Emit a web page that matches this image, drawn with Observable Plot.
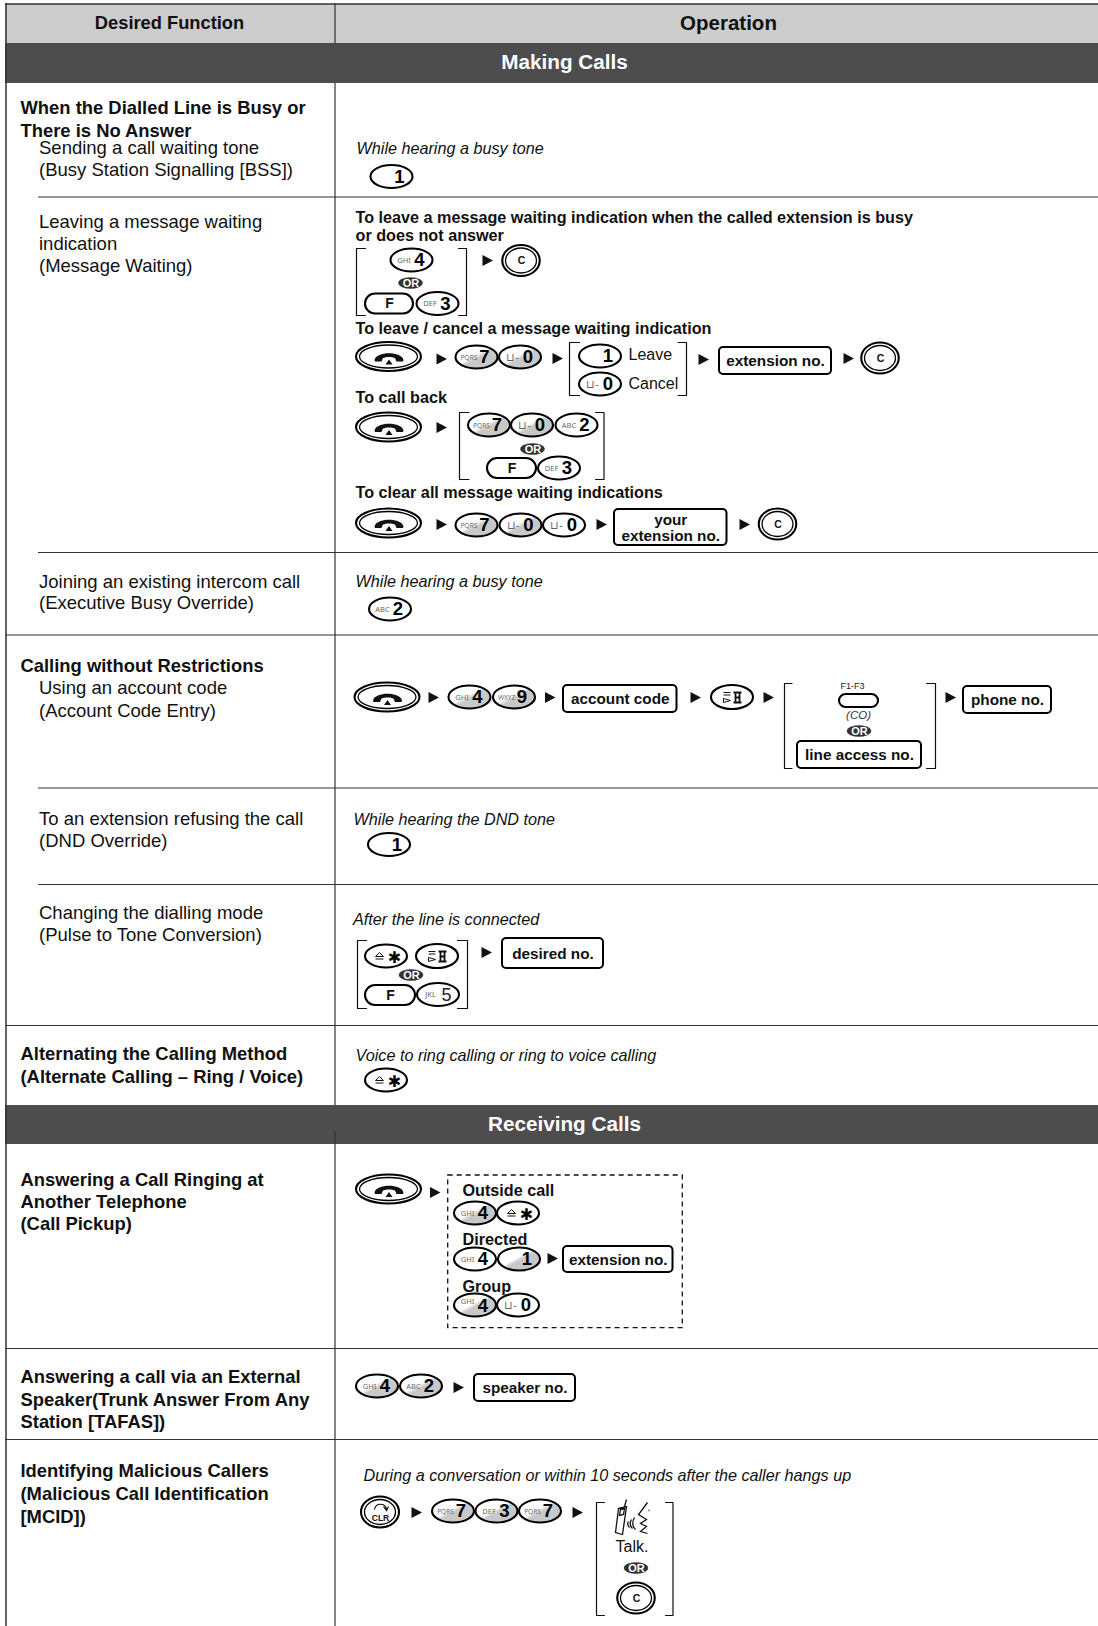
<!DOCTYPE html>
<html><head><meta charset="utf-8">
<script src="https://cdn.jsdelivr.net/npm/d3@7"></script>
<script src="https://cdn.jsdelivr.net/npm/@observablehq/plot@0.6"></script>
<style>html,body{margin:0;padding:0;background:#fff}svg{display:block}</style>
</head><body><div id="chart"></div>
<script>
// ---- content ----
const headers = ["Desired Function", "Operation"];
const sections = ["Making Calls", "Receiving Calls"];
const boldLeft = ["When the Dialled Line is Busy or","There is No Answer","Calling without Restrictions","Alternating the Calling Method","(Alternate Calling – Ring / Voice)","Answering a Call Ringing at","Another Telephone","(Call Pickup)","Answering a call via an External","Speaker(Trunk Answer From Any","Station [TAFAS])","Identifying Malicious Callers","(Malicious Call Identification","[MCID])"];
const plainLeft = ["Sending a call waiting tone","(Busy Station Signalling [BSS])","Leaving a message waiting","indication","(Message Waiting)","Joining an existing intercom call","(Executive Busy Override)","Using an account code","(Account Code Entry)","To an extension refusing the call","(DND Override)","Changing the dialling mode","(Pulse to Tone Conversion)"];
const italicRight = ["While hearing a busy tone","While hearing a busy tone","While hearing the DND tone","After the line is connected","Voice to ring calling or ring to voice calling","During a conversation or within 10 seconds after the caller hangs up"];
const boldRight = ["To leave a message waiting indication when the called extension is busy","or does not answer","To leave / cancel a message waiting indication","To call back","To clear all message waiting indications","Outside call","Directed","Group"];
const boxLabels = ["extension no.","your\nextension no.","account code","line access no.","phone no.","desired no.","extension no.","speaker no."];
const plainRight = ["Leave","Cancel","Talk."];
// key sequence as it appears down the page
const keyCaps = {"1":"","2":"ABC","3":"DEF","4":"GHI","5":"JKL","7":"PQRS","9":"WXYZ","0":"⊔-"};
const keyDigits = ["1","4","3","7","0","1","0","7","0","2","3","7","0","0","2","4","9","1","5","4","4","1","4","0","4","2","7","3","7"];
const keyShaded = [0,0,0,1,1,0,0,1,1,0,0,1,1,0,0,1,1,0,0,1,0,1,1,0,1,1,1,1,1];

// ---- layout, in page units ----
const leftBoldY = [108,131,666,1054,1077,1180,1202,1224,1377,1400,1422,1471,1494,1517];
const leftPlainY = [148,170,222,244,266,582,603,688,711,819,841,913,935];
const italicXY = [[356,148],[355,581],[353,819],[352.5,919],[355,1055.5],[363,1475]];
const boldRightXY = [[355,217.5],[355,235.5],[355,328.5],[355,397.5],[355,492.5],[462,1190],[462,1239],[462,1286]];
const boxXY = [[719,347,831,374],[614,509,726.5,545],[563,685,676.5,712],[797,741,921,768],[963,686,1051,713],[502,938,603,968],[563,1246,672.5,1272],[474,1374,575,1401]];
const plainRightXY = [[628,354],[628,383],[615,1546]];
const keyXY = [[391.5,176.5],[411.5,260],[437.5,303.5],[476.5,357],[520,357],[600,356],[600,384],[489,425],[532,425],[576.5,425],[559,468],[476.5,525],[520.5,525],[564,525],[390,609],[469.5,697],[514,697],[389,844.5],[438,994.5],[475,1213],[475,1259],[519,1259],[475,1305],[518,1305],[377,1386],[421,1386],[453,1511],[496.5,1511],[540,1511]];
const fKeyXY = [[389,303.5],[511.5,468],[390,995]];
const fKeyW = [48,49,50];
const orXY = [[410.5,283],[532.5,449],[859,731],[411,975],[636,1568]];
const arrowXY = [[487,260],[441,358.5],[557,358],[703,359],[848,358],[441,427],[441,524],[601,524],[744,524],[433,697],[549.5,697],[695,697],[768,697],[950,697],[486,952],[434.5,1192],[552,1258],[458,1387],[416,1512],[577,1512]];
const handsetXY = [[388.5,356.5],[388.5,427],[388.5,523],[387,697],[388.5,1189]];
const cKeyXY = [[521,260.5],[880,358],[777.5,524],[636,1598]];
const starXY = [[386,956],[386,1080],[518,1213]];
const flashXY = [[732,697],[437,956]];
const brackets = [[356,365,248,315,1],[458,466,248,315,-1],[569,579,342,395,1],[677.5,686,342,395,-1],[459,468.5,412,479,1],[595,603.5,412,479,-1],[784,791.5,683,768,1],[926,935,683,768,-1],[357,366,940,1008,1],[457,467,940,1008,-1],[596,604,1502,1615,1],[665,672.5,1502,1615,-1]];

const zip = (xy, extra) => xy.map((p,i)=>({x:p[0],y:p[1],...(extra?extra(i):{})}));
const keys = zip(keyXY, i=>({digit:keyDigits[i],cap:keyCaps[keyDigits[i]],shade:!!keyShaded[i],raised:i===22}));
const boxes = boxXY.map((b,i)=>({x1:b[0],y1:b[1],x2:b[2],y2:b[3],label:boxLabels[i]}));
const bracketPts = brackets.flatMap((b,i)=>{
  const spine = b[4]>0?b[0]:b[1], tip = b[4]>0?b[1]:b[0];
  return [[tip,b[2],i],[spine,b[2],i],[spine,b[3],i],[tip,b[3],i]];
});
const font = "Liberation Sans, Arial, sans-serif";

const oval = (data,w,h,opt) => Plot.rect(data,{x1:d=>d.x-w/2,x2:d=>d.x+w/2,y1:d=>d.y-h/2,y2:d=>d.y+h/2,rx:"50%",ry:"50%",stroke:"#000",fill:"white",strokeWidth:2.1,...opt});
const pill = (data,wf,h,opt) => Plot.rect(data,{x1:d=>d.x-wf(d)/2,x2:d=>d.x+wf(d)/2,y1:d=>d.y-h/2,y2:d=>d.y+h/2,rx:h/2,ry:h/2,stroke:"#000",fill:"white",strokeWidth:2.1,...opt});
const label = (data,o) => Plot.text(data,{fontFamily:font,textAnchor:"start",fill:"#111",...o});

const arrowSymbol = {draw(c){c.moveTo(-5,-5.5);c.lineTo(5.5,0);c.lineTo(-5,5.5);c.closePath();}};
const handsetSymbol = {draw(c){
  c.moveTo(-14.5,3);c.bezierCurveTo(-13,-6,13,-6,14.5,3);c.lineTo(14,4.5);c.lineTo(7.5,4.5);c.lineTo(6,1);
  c.bezierCurveTo(3,-.5,-3,-.5,-6,1);c.lineTo(-7.5,4.5);c.lineTo(-14,4.5);c.closePath();
  c.moveTo(0,2.5);c.lineTo(3.5,7.5);c.lineTo(-3.5,7.5);c.closePath();}};
const phoneSymbol = {draw(c){
  c.moveTo(-15,-11);c.lineTo(-7,-13);c.lineTo(-11,15);c.lineTo(-18,13);c.closePath();
  c.moveTo(-13,-10);c.lineTo(-9,-11);c.lineTo(-10,-5);c.lineTo(-14,-4);c.closePath();
  c.moveTo(-9,-13);c.lineTo(-7,-20);
  c.moveTo(-4,8);c.quadraticCurveTo(-7,5,-5,2);
  c.moveTo(-1,9);c.quadraticCurveTo(-5,5,-2,0);
  c.moveTo(2,10);c.quadraticCurveTo(-3,5,1,-2);
  c.moveTo(14,-17);c.lineTo(5,-5);c.lineTo(13,0);c.lineTo(7,4);c.lineTo(13,7);c.lineTo(7,12);c.lineTo(14,14);
  c.moveTo(15,-9);c.lineTo(16,-9);}};
const clrArc = {draw(c){c.moveTo(-6,1);c.bezierCurveTo(-5,-6,5,-6,6,1);c.moveTo(3,-2);c.lineTo(6,2);c.lineTo(8,-2);}};
const flashSymbol = {draw(c){
  c.moveTo(-9,-5);c.lineTo(-2,-5);c.moveTo(-9,-2.5);c.lineTo(-2,-2.5);
  c.moveTo(-9,1);c.lineTo(-2,3);c.lineTo(-9,5);c.closePath();}};
const flashBox = {draw(c){c.moveTo(1,-5);c.lineTo(9,-5);c.moveTo(1,5);c.lineTo(9,5);c.moveTo(3,-5);c.lineTo(3,5);c.moveTo(7,-5);c.lineTo(7,5);c.moveTo(2,0);c.lineTo(8,0);}};
const starSymbol = {draw(c){c.moveTo(-11,0);c.lineTo(-7,-4);c.lineTo(-3,0);c.closePath();c.moveTo(-11,2.5);c.lineTo(-3,2.5);}};

const defs = () => {
  const d = d3.create("svg:defs");
  const g = d.append("linearGradient").attr("id","sh").attr("x1",0).attr("y1",0).attr("x2",1).attr("y2",1);
  [[.44,"white"],[.54,"#c8c8c8"]].forEach(([o,c])=>g.append("stop").attr("offset",o).attr("stop-color",c));
  return d.node();
};

const page = Plot.plot({
  width:1098,height:1626,margin:0,
  x:{domain:[0,1098],range:[0,1098],axis:null},
  y:{domain:[0,1626],range:[0,1626],axis:null},
  marks:[
    defs,
    // bands
    Plot.rect([[4,43]],{x1:5,x2:1098,y1:d=>d[0],y2:d=>d[1],fill:"#cccccc"}),
    Plot.rect([[43,83],[1105,1144]],{x1:5,x2:1098,y1:d=>d[0],y2:d=>d[1],fill:"#4d4d4d"}),
    // rules
    Plot.ruleY([3.5],{x1:5,x2:1098,stroke:"#333",strokeWidth:1.5}),
    Plot.ruleX([5.5],{y1:3,y2:1626,stroke:"#333",strokeWidth:1.5}),
    Plot.ruleX([334.5],{y1:3,y2:43,stroke:"#333",strokeWidth:1.2}),
    Plot.ruleX([334.5],{y1:83,y2:1105,stroke:"#333",strokeWidth:1.2}),
    Plot.ruleX([334.5],{y1:1131,y2:1626,stroke:"#333",strokeWidth:1.2}),
    Plot.ruleY([196.5,552,787.5,884],{x1:38,x2:1098,stroke:"#333",strokeWidth:1.2}),
    Plot.ruleY([634.5,1025,1348,1439],{x1:5,x2:1098,stroke:"#333",strokeWidth:1.2}),
    // texts
    Plot.text([headers[0]],{x:169,y:23,text:d=>d,fontFamily:font,fontWeight:"bold",fontSize:18.3,fill:"#111"}),
    Plot.text([headers[1]],{x:728,y:23,text:d=>d,fontFamily:font,fontWeight:"bold",fontSize:20.5,fill:"#111"}),
    Plot.text(sections,{x:564,y:(d,i)=>[62,1124][i],text:d=>d,fontFamily:font,fontWeight:"bold",fontSize:20.7,fill:"white"}),
    label(boldLeft,{x:20,y:(d,i)=>leftBoldY[i],text:d=>d,fontWeight:"bold",fontSize:18.4}),
    label(plainLeft,{x:38.5,y:(d,i)=>leftPlainY[i],text:d=>d,fontSize:18.5}),
    label(italicRight,{x:(d,i)=>italicXY[i][0],y:(d,i)=>italicXY[i][1],text:d=>d,fontStyle:"italic",fontSize:16.2}),
    label(boldRight,{x:(d,i)=>boldRightXY[i][0],y:(d,i)=>boldRightXY[i][1],text:d=>d,fontWeight:"bold",fontSize:16.2}),
    label(plainRight,{x:(d,i)=>plainRightXY[i][0],y:(d,i)=>plainRightXY[i][1],text:d=>d,fontSize:16}),
    // brackets
    Plot.line(bracketPts,{x:d=>d[0],y:d=>d[1],z:d=>d[2],stroke:"#111",strokeWidth:1.2}),
    // dashed box
    Plot.rect([0],{x1:447.7,x2:682.3,y1:1175,y2:1327.7,fill:"none",stroke:"#111",strokeWidth:1.3,strokeDasharray:"5,4"}),
    // numbered keys
    oval(keys.filter(d=>!d.shade),42,23,{}),
    oval(keys.filter(d=>d.shade),42,23,{fill:"url(#sh)"}),
    Plot.text(keys,{x:"x",y:d=>d.y-(d.raised?4:0),dx:-8,text:"cap",fontFamily:d=>d.cap==="⊔-"?"DejaVu Sans":font,fontSize:d=>d.cap.length>3?6.5:d.cap==="⊔-"?10.5:7.5,fill:"#666"}),
    Plot.text(keys.filter(d=>d.digit!=="5"),{x:"x",y:d=>d.y+(d.raised?1:0),dx:7.5,text:"digit",fontFamily:font,fontWeight:"bold",fontSize:18.5,fill:"#000"}),
    Plot.text(keys.filter(d=>d.digit==="5"),{x:"x",y:"y",dx:8,text:"digit",fontFamily:font,fontSize:18,fill:"#222"}),
    // F keys
    pill(zip(fKeyXY,i=>({w:fKeyW[i]})),d=>d.w,20,{}),
    Plot.text(fKeyXY,{x:d=>d[0],y:d=>d[1],text:()=>"F",fontFamily:font,fontWeight:"bold",fontSize:14,fill:"#111"}),
    // CO key
    pill([{x:858.5,y:700.5}],()=>39,13,{}),
    Plot.text(["F1-F3"],{x:852,y:686,text:d=>d,fontFamily:font,fontSize:9,fill:"#222"}),
    Plot.text(["(CO)"],{x:858,y:715,text:d=>d,fontFamily:font,fontStyle:"italic",fontSize:11.5,fill:"#333"}),
    // OR badges
    oval(zip(orXY),24,11,{fill:"#333",stroke:"#333",strokeWidth:.5}),
    Plot.text(orXY,{x:d=>d[0],y:d=>d[1],text:()=>"OR",fontFamily:font,fontWeight:"bold",fontSize:11,fill:"white"}),
    // arrows
    Plot.dot(arrowXY,{x:d=>d[0],y:d=>d[1],r:6,symbol:arrowSymbol,fill:"#111"}),
    // handset keys
    oval(zip(handsetXY),65,29,{}),
    oval(zip(handsetXY),58,23,{strokeWidth:1.3}),
    Plot.dot(handsetXY,{x:d=>d[0],y:d=>d[1],r:6,symbol:handsetSymbol,fill:"#111"}),
    // C keys
    oval(zip(cKeyXY),37.5,31,{}),
    oval(zip(cKeyXY),31,25,{strokeWidth:1.3}),
    Plot.text(cKeyXY,{x:d=>d[0],y:d=>d[1],text:()=>"C",fontFamily:font,fontWeight:"bold",fontSize:10.5,fill:"#111"}),
    // CLR key
    oval([{x:380,y:1512}],38,31,{}),
    oval([{x:380,y:1512}],31,25,{strokeWidth:1.3}),
    Plot.dot([[380,1508]],{x:d=>d[0],y:d=>d[1],r:6,symbol:clrArc,fill:"none",stroke:"#111",strokeWidth:1.2}),
    Plot.text(["CLR"],{x:380,y:1518,text:d=>d,fontFamily:font,fontWeight:"bold",fontSize:8.5,fill:"#111"}),
    // star keys
    oval(zip(starXY),42,23,{}),
    Plot.dot(starXY,{x:d=>d[0],y:d=>d[1],r:6,symbol:starSymbol,fill:"none",stroke:"#111",strokeWidth:1}),
    Plot.text(starXY,{x:d=>d[0],y:d=>d[1],dx:8,dy:1,text:()=>"✱",fontFamily:"DejaVu Sans",fontWeight:"bold",fontSize:16,fill:"#000"}),
    // flash keys
    oval(zip(flashXY),42,24,{}),
    Plot.dot(flashXY,{x:d=>d[0],y:d=>d[1],r:6,symbol:flashSymbol,fill:"none",stroke:"#111",strokeWidth:1}),
    Plot.dot(flashXY,{x:d=>d[0],y:d=>d[1],r:6,symbol:flashBox,fill:"none",stroke:"#111",strokeWidth:1.8}),
    // boxes
    Plot.rect(boxes,{x1:"x1",x2:"x2",y1:"y1",y2:"y2",rx:4,ry:4,fill:"white",stroke:"#000",strokeWidth:2}),
    Plot.text(boxes,{x:d=>(d.x1+d.x2)/2,y:d=>(d.y1+d.y2)/2,text:"label",fontFamily:font,fontWeight:"bold",fontSize:15.3,lineHeight:1.05,fill:"#111"}),
    // talk icon
    Plot.dot([[633,1519]],{x:d=>d[0],y:d=>d[1],r:6,symbol:phoneSymbol,fill:"none",stroke:"#111",strokeWidth:1.3})
  ]
});
document.getElementById("chart").append(page);
</script></body></html>
